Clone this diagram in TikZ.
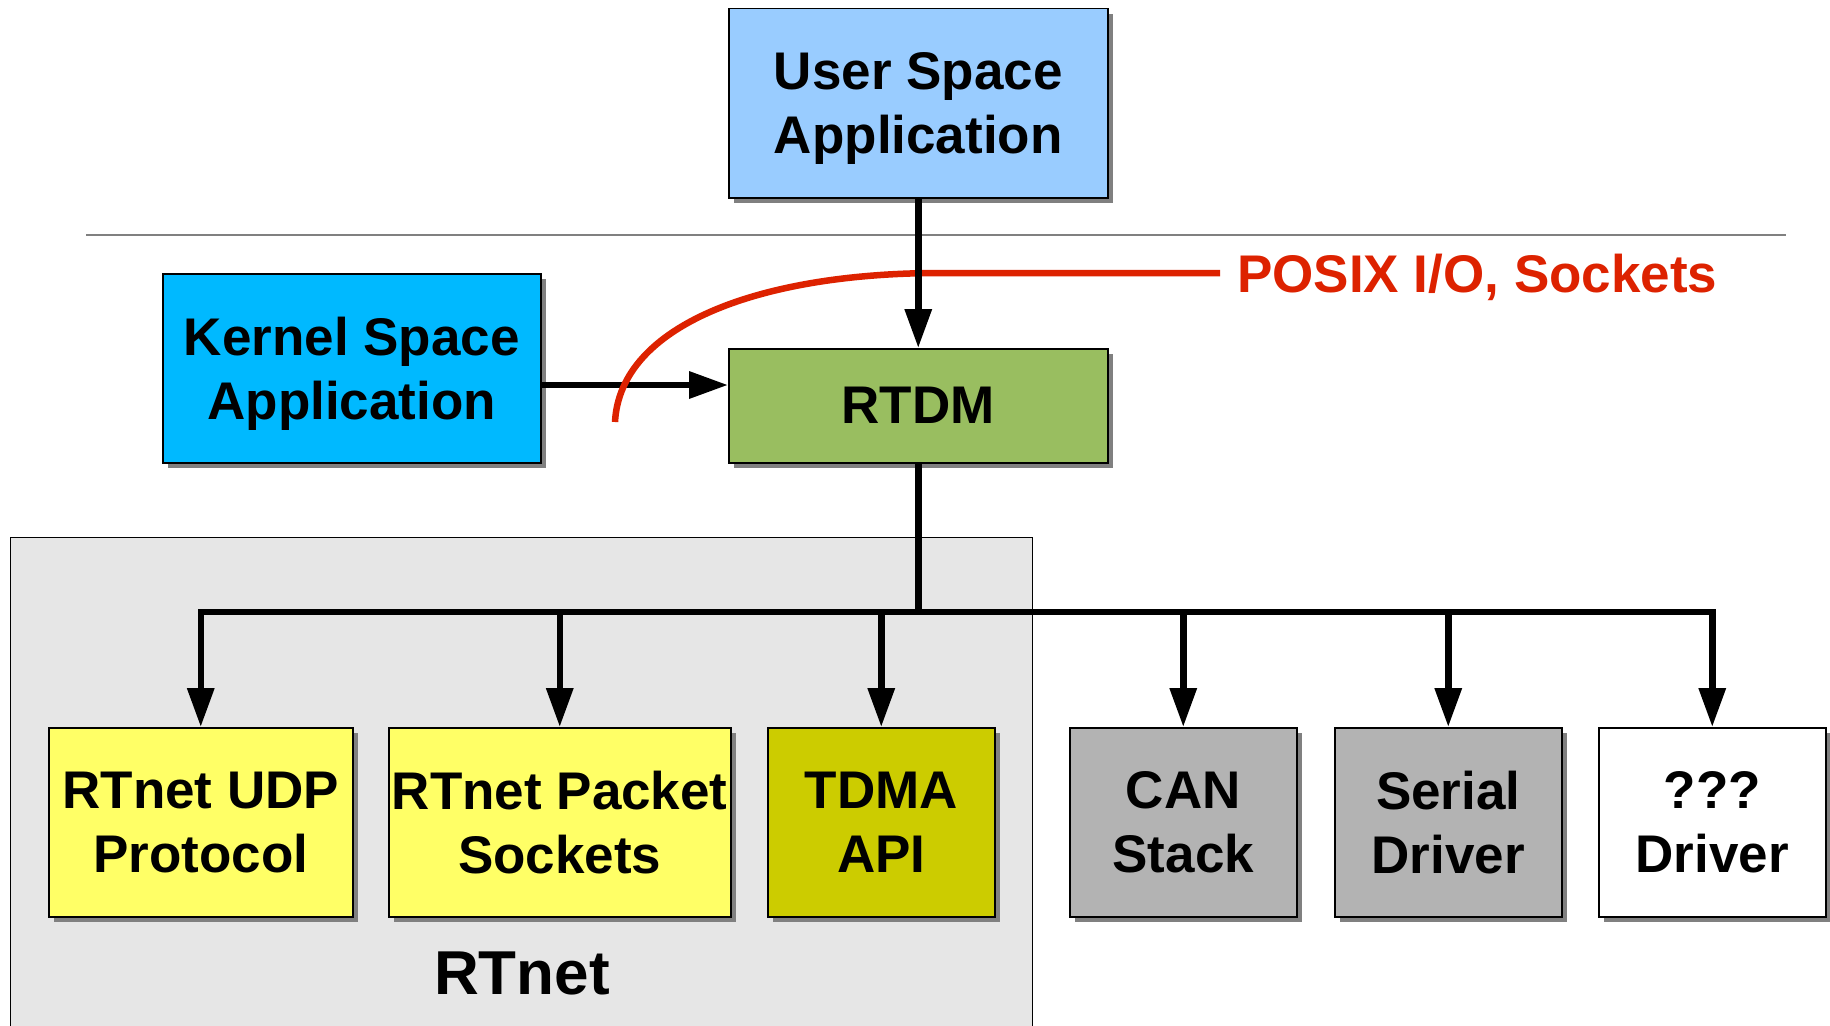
\documentclass[tikz,border=0pt]{standalone}
\usepackage{fontspec}
\setmainfont{Liberation Sans}
\usetikzlibrary{arrows.meta,shadows}
\definecolor{userblue}{HTML}{99CCFF}
\definecolor{kernblue}{HTML}{00B9FF}
\definecolor{rtdmgreen}{HTML}{99BE60}
\definecolor{yel}{HTML}{FFFF66}
\definecolor{tdmaolive}{HTML}{CCCC00}
\definecolor{grbox}{HTML}{B3B3B3}
\definecolor{contgray}{HTML}{E6E6E6}
\definecolor{shad}{HTML}{808080}
\definecolor{posixred}{HTML}{DD2200}
\begin{document}
\begin{tikzpicture}[x=1pt,y=-1pt,
  box/.style={draw=black, line width=1.5pt, anchor=north west, inner sep=0pt, align=center,
    font=\fontsize{53}{64}\selectfont\bfseries, text depth=0pt,
    drop shadow={shadow xshift=5pt, shadow yshift=-5pt, fill=shad, opacity=1}},
  bigbox/.style={box, minimum width=379pt, minimum height=189pt},
  lowbox/.style={box, minimum height=189pt},
  conn/.style={line width=6.5pt},
  arr/.style={conn, -{Triangle[length=39pt,width=26pt]}},
]
\useasboundingbox (0,0) rectangle (1830,1025);
\fill[white] (0,0) rectangle (1830,1025);

% separator
\draw[shad, line width=1.5pt] (86,235) -- (1786,235);

% RTnet container
\node[draw=black, line width=1.2pt, fill=contgray, anchor=north west, minimum width=1022pt, minimum height=520pt, inner sep=0pt] (rtnet) at (10,537) {};
\node[font=\fontsize{62}{70}\selectfont\bfseries, inner sep=0pt] (rtnetlabel) at (522,973) {RTnet};

% boxes
\node[bigbox, fill=userblue] (user) at (728,8) {User Space\\Application};
\node[bigbox, fill=kernblue, minimum width=378pt] (kernel) at (162,273) {Kernel Space\\Application};
\node[box, fill=rtdmgreen, minimum width=379pt, minimum height=114pt] (rtdm) at (728,348) {RTDM};

\node[lowbox, fill=yel, minimum width=304pt] (udp) at (48,727) {RTnet UDP\\Protocol};
\node[lowbox, fill=yel, minimum width=342pt] (pkt) at (388,727) {RTnet Packet\\Sockets};
\node[lowbox, fill=tdmaolive, minimum width=227pt] (tdma) at (767,727) {TDMA\\API};
\node[lowbox, fill=grbox, minimum width=227pt] (can) at (1069,727) {CAN\\Stack};
\node[lowbox, fill=grbox, minimum width=227pt] (serial) at (1334,727) {Serial\\Driver};
\node[lowbox, fill=white, minimum width=227pt] (unk) at (1598,727) {???\\Driver};

% POSIX label
\node[anchor=west, inner sep=0pt, text=posixred, font=\fontsize{53}{62}\selectfont\bfseries] (posix) at (1237,277) {POSIX I/O, Sockets};

% connectors
\coordinate (bus) at (rtdm.south |- 0,612);
\coordinate (kin) at (0,385);
\coordinate (redstart) at (615,422);
\coordinate (redend) at (1220,273);

\draw[arr] (kernel.east |- kin) -- (rtdm.west |- kin);
\draw[posixred, line width=6.5pt] (redstart) .. controls (620,325) and (760,273) .. (940,273) -- (redend);
\draw[arr] (user.south) -- (rtdm.north);

\draw[conn] (rtdm.south) -- (bus);
\draw[arr, line join=miter] (bus) -| (udp.north);
\draw[arr, line join=miter] (bus) -| (unk.north);
\draw[arr] (pkt.north |- bus) -- (pkt.north);
\draw[arr] (tdma.north |- bus) -- (tdma.north);
\draw[arr] (can.north |- bus) -- (can.north);
\draw[arr] (serial.north |- bus) -- (serial.north);
\end{tikzpicture}
\end{document}
